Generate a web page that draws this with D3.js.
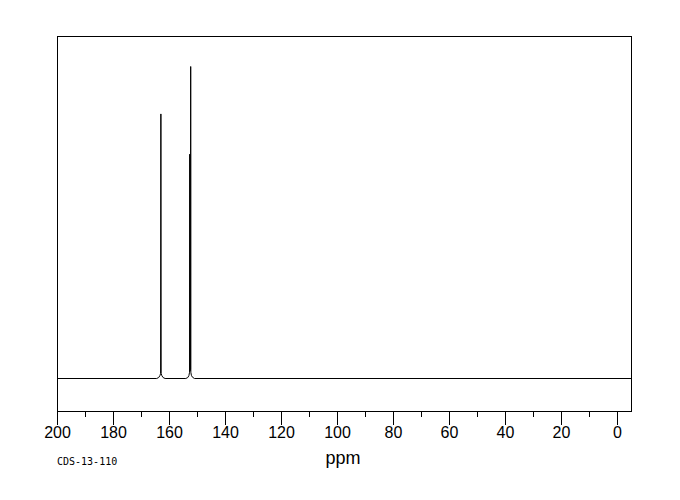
<!DOCTYPE html>
<html>
<head>
<meta charset="utf-8">
<script src="https://cdn.jsdelivr.net/npm/d3@7/dist/d3.min.js"></script>
<style>
  body { margin: 0; background: #fff; }
  svg text { fill: #000; }
</style>
</head>
<body>
<div id="chart"></div>
<script>
// spectrum trace (ppm, relative intensity)
var shifts = [200, 164.4, 163.7, 163.25, 163.0, 162.9, 162.8, 162.55, 162.1, 161.4,
              154.0, 153.3, 152.9, 152.66, 152.6, 152.54, 152.4, 152.3, 152.25, 152.2,
              152.0, 151.6, 150.9, -5];
var intensity = [0, 0, 0.3, 0.9, 1.6, 84.8, 1.6, 0.9, 0.3, 0,
                 0, 0.3, 0.9, 2.0, 71.9, 2.5, 2.5, 3.0, 100, 2.0,
                 1.0, 0.4, 0, 0];
var tickValues = [200, 180, 160, 140, 120, 100, 80, 60, 40, 20, 0];
var minorTicks = [190, 170, 150, 130, 110, 90, 70, 50, 30, 10];
var xLabel = "ppm";
var sampleId = "CDS-13-110";

var width = 680, height = 500;
var margin = { top: 36, right: 49, bottom: 89, left: 57 };

var svg = d3.select("#chart").append("svg")
    .attr("width", width)
    .attr("height", height);

var x = d3.scaleLinear()
    .domain([200, -5])
    .range([margin.left, width - margin.right]);

var y = d3.scaleLinear()
    .domain([0, 100])
    .range([378.5, 66.5]);

// frame
svg.append("rect")
    .attr("x", margin.left + 0.5)
    .attr("y", margin.top + 0.5)
    .attr("width", width - margin.left - margin.right)
    .attr("height", height - margin.top - margin.bottom)
    .attr("fill", "none")
    .attr("stroke", "#000")
    .attr("stroke-width", 1);

var axisY = height - margin.bottom + 0.5;

var xAxis = d3.axisBottom(x)
    .tickValues(tickValues)
    .tickSize(13)
    .tickPadding(2)
    .tickFormat(d3.format("d"));

var gx = svg.append("g")
    .attr("transform", "translate(0," + axisY + ")")
    .call(xAxis);
gx.select(".domain").remove();
gx.selectAll("line").attr("stroke", "#000").attr("shape-rendering", "crispEdges");
gx.selectAll("text")
    .attr("font-family", "Liberation Sans, Arial, sans-serif")
    .attr("font-size", 16)
    .attr("fill", "#000");

svg.append("g")
    .attr("transform", "translate(0," + axisY + ")")
    .call(d3.axisBottom(x).tickValues(minorTicks).tickSize(5).tickFormat(""))
    .call(function (g) { g.select(".domain").remove(); })
    .selectAll("line").attr("stroke", "#000").attr("shape-rendering", "crispEdges");

// spectrum
var line = d3.line()
    .x(function (d, i) { return x(d); })
    .y(function (d, i) { return y(intensity[i]); });

svg.append("path")
    .datum(shifts)
    .attr("d", line)
    .attr("fill", "none")
    .attr("stroke", "#000")
    .attr("stroke-width", 1);

svg.append("text")
    .attr("x", 343)
    .attr("y", 464)
    .attr("text-anchor", "middle")
    .attr("font-family", "Liberation Sans, Arial, sans-serif")
    .attr("font-size", 18)
    .text(xLabel);

svg.append("text")
    .attr("x", 57)
    .attr("y", 465)
    .attr("font-family", "DejaVu Sans Mono, monospace")
    .attr("font-size", 10)
    .text(sampleId);
</script>
</body>
</html>
